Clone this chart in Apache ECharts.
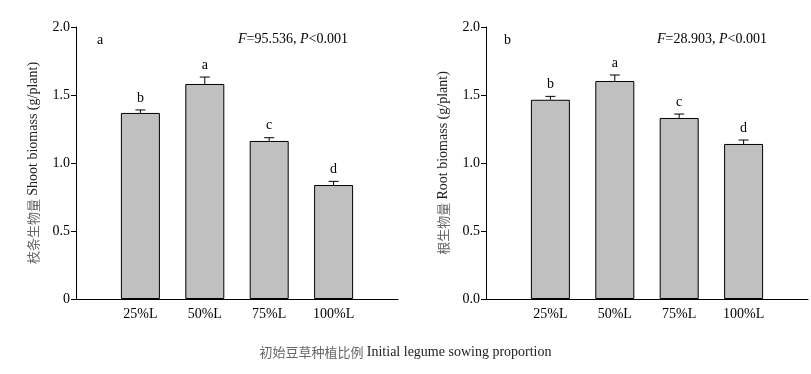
<!DOCTYPE html>
<html><head><meta charset="utf-8">
<script src="https://cdn.jsdelivr.net/npm/echarts@6/dist/echarts.min.js"></script>
<style>html,body{margin:0;padding:0;background:#fff}#c{width:811px;height:374px}</style>
</head><body><div id="c"></div>
<script>
const categories = ['25%L', '50%L', '75%L', '100%L'];
const shootMean = [1.368, 1.581, 1.162, 0.838];
const shootErr = [0.022, 0.051, 0.024, 0.027];
const shootLetters = ['b', 'a', 'c', 'd'];
const rootMean = [1.465, 1.603, 1.331, 1.140];
const rootErr = [0.025, 0.044, 0.029, 0.029];
const rootLetters = ['b', 'a', 'c', 'd'];
const yTicks = [0, 0.5, 1.0, 1.5, 2.0];

const SERIF = '"Liberation Serif","DejaVu Serif",serif';
const CJK = '"Noto Sans CJK SC",sans-serif';
const axisCats = [''].concat(categories, ['']);
const pad = a => ['-'].concat(a, ['-']);

function errSeries(idx, mean, err, letters) {
  return {
    type: 'custom', xAxisIndex: idx, yAxisIndex: idx, z: 5,
    data: mean.map((m, i) => [i + 1, m, err[i], letters[i]]),
    renderItem: function (params, api) {
      const x = api.value(0), m = api.value(1), e = api.value(2);
      const p0 = api.coord([x, m]);
      const p1 = api.coord([x, m + e]);
      const hw = 5;
      return {
        type: 'group', children: [
          { type: 'line', shape: { x1: p0[0], y1: p0[1], x2: p1[0], y2: p1[1] }, style: { stroke: '#000', lineWidth: 1 } },
          { type: 'line', shape: { x1: p1[0] - hw, y1: p1[1], x2: p1[0] + hw, y2: p1[1] }, style: { stroke: '#000', lineWidth: 1 } },
          { type: 'text', style: { x: p1[0], y: p1[1] - 5, text: api.value(3), fill: '#000', font: '14px ' + SERIF, textAlign: 'center', textVerticalAlign: 'bottom' } }
        ]
      };
    }
  };
}

function yAxis(idx, zeroLabel, cn, en) {
  return {
    type: 'value', gridIndex: idx, min: yTicks[0], max: yTicks[yTicks.length - 1], interval: 0.5,
    axisLine: { show: true, lineStyle: { color: '#000', width: 1 } },
    axisTick: { show: true, length: 5, inside: false, lineStyle: { color: '#000' } },
    splitLine: { show: false },
    axisLabel: { color: '#000', fontFamily: SERIF, fontSize: 14, margin: 6,
      formatter: v => v === 0 ? zeroLabel : v.toFixed(1) },
    name: '{cn|' + cn + '} {en|' + en + '}',
    nameLocation: 'middle', nameGap: 36, nameRotate: 90,
    nameTextStyle: { rich: {
      cn: { fontFamily: CJK, fontSize: 13, color: '#666' },
      en: { fontFamily: SERIF, fontSize: 14, color: '#222' } } }
  };
}

function xAxis(idx) {
  return {
    type: 'category', gridIndex: idx, data: axisCats, boundaryGap: false,
    axisLine: { show: true, lineStyle: { color: '#000', width: 1 } },
    axisTick: { show: false },
    axisLabel: { color: '#000', fontFamily: SERIF, fontSize: 14, margin: 8, interval: 0 },
    splitLine: { show: false }
  };
}

function barSeries(idx, mean) {
  return {
    type: 'bar', xAxisIndex: idx, yAxisIndex: idx, data: pad(mean), barWidth: 39,
    itemStyle: { color: '#c0c0c0', borderColor: '#000', borderWidth: 1 }
  };
}

function fText(x, y, fval) {
  return {
    type: 'text', left: x, top: y,
    style: {
      text: '{i|F}{n|=' + fval + ', }{i|P}{n|<0.001}',
      rich: {
        i: { fontFamily: SERIF, fontStyle: 'italic', fontSize: 14, fill: '#000' },
        n: { fontFamily: SERIF, fontSize: 14, fill: '#000' }
      }
    }
  };
}

const chart = echarts.init(document.getElementById('c'));
chart.setOption({
  animation: false,
  backgroundColor: '#fff',
  grid: [
    { left: 76, top: 27, width: 322, height: 272 },
    { left: 486, top: 27, width: 322, height: 272 }
  ],
  xAxis: [xAxis(0), xAxis(1)],
  yAxis: [
    yAxis(0, '0', '枝条生物量', 'Shoot biomass (g/plant)'),
    yAxis(1, '0.0', '根生物量', 'Root biomass (g/plant)')
  ],
  series: [
    barSeries(0, shootMean), errSeries(0, shootMean, shootErr, shootLetters),
    barSeries(1, rootMean), errSeries(1, rootMean, rootErr, rootLetters)
  ],
  graphic: [
    { type: 'text', left: 97, top: 33, style: { text: 'a', font: '14px ' + SERIF, fill: '#000' } },
    { type: 'text', left: 504, top: 33, style: { text: 'b', font: '14px ' + SERIF, fill: '#000' } },
    fText(238, 32, '95.536'),
    fText(657, 32, '28.903'),
    { type: 'text', left: 'center', top: 345, style: {
      text: '{cn|初始豆草种植比例} {en|Initial legume sowing proportion}',
      rich: {
        cn: { fontFamily: CJK, fontSize: 13, fill: '#666' },
        en: { fontFamily: SERIF, fontSize: 14, fill: '#222' } } } }
  ]
});
</script>
</body></html>
